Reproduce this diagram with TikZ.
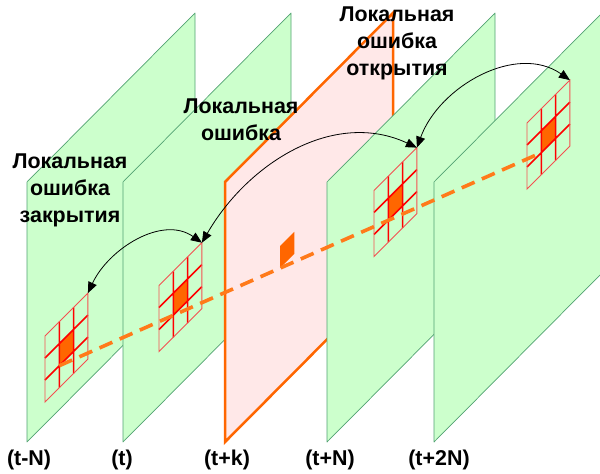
\documentclass[tikz,border=0pt]{standalone}
\usepackage{fontspec}
\setmainfont{Liberation Sans}
\setsansfont{Liberation Sans}
\usetikzlibrary{arrows.meta}
\definecolor{planegreen}{HTML}{CCFFCC}
\definecolor{edgegreen}{HTML}{52A272}
\definecolor{planepink}{HTML}{FFE8E8}
\definecolor{hotorange}{HTML}{FF6600}
\definecolor{pathorange}{HTML}{FF7A1A}
\definecolor{gridred}{HTML}{FF0000}
\definecolor{gridpale}{HTML}{F45050}

\tikzset{
  cellgrid/.pic={
    \begin{scope}[x={(14.3bp,14.3bp)}, y={(0bp,-22bp)}]
      \fill[hotorange] (0,0) -- (1,0) -- (1,-1) -- (0,-1) -- cycle;
      \draw[gridin] (0,-2) -- (0,1) (1,-2) -- (1,1)
                    (-1,-1) -- (2,-1) (-1,0) -- (2,0);
      \draw[gridout] (-1,-2) -- (2,-2) -- (2,1) -- (-1,1) -- cycle;
      \coordinate (-tr) at (2,-2);
      \coordinate (-c) at (0,0);
    \end{scope}
  }
}

\begin{document}
\begin{tikzpicture}[
    x=1bp, y=-1bp,
    every node/.style={font=\sffamily\bfseries\fontsize{21.5}{27}\selectfont, align=center},
    greenplane/.style={fill=planegreen, draw=edgegreen, line width=0.7bp, line join=round},
    pinkplane/.style={fill=planepink, draw=hotorange, line width=2.5bp, line join=miter},
    gridin/.style={draw=gridred, line width=1.6bp},
    gridout/.style={draw=gridpale, line width=0.9bp},
    hotpath/.style={pathorange, line width=3.6bp, dash pattern=on 14bp off 8bp},
    swap/.style={<->, >={Triangle[length=11bp,width=9bp]}, line width=0.8bp, black},
]

\clip (0,0) rectangle (600,474);
\fill[white] (0,0) rectangle (600,474);

% frames, back to front
\foreach \lx/\sty in {27/greenplane, 123/greenplane, 225/pinkplane, 327/greenplane, 434/greenplane}{
  \filldraw[\sty] (\lx,182) -- ++(168,-169) -- ++(0,260) -- ++(-168,169) -- cycle;
}

% local windows
\pic (g1) at (59.3,365.7) {cellgrid};
\pic (g2) at (173.3,315.3) {cellgrid};
\pic (g4) at (388.3,220.2) {cellgrid};
\pic (g5) at (541.3,152.7) {cellgrid};

% lost cell on frame (t+k)
\coordinate (gk) at (280,268.2);
\fill[hotorange] (gk) -- ++(14.3,-14.3) -- ++(0,-22) -- ++(-14.3,14.3) -- cycle;

% trajectory
\draw[hotpath] (g1-c) -- (g5-c);

% comparisons
\draw[swap] (g1-tr) to[out=65, in=145] (g2-tr);
\draw[swap] (g2-tr) to[out=60, in=155] (g4-tr);
\draw[swap] (g4-tr) to[out=70, in=145] (g5-tr);

% labels
\node (lclose) at (70,190) {Локальная\\ошибка\\закрытия};
\node (lerr) at (241,120) {Локальная\\ошибка};
\node (lopen) at (397,43) {Локальная\\ошибка\\открытия};

\node (tmn) at (29,460) {(t-N)};
\node (t0) at (122,460) {(t)};
\node (tpk) at (227,460) {(t+k)};
\node (tpn) at (330,460) {(t+N)};
\node (tp2n) at (439,460) {(t+2N)};

\end{tikzpicture}
\end{document}
